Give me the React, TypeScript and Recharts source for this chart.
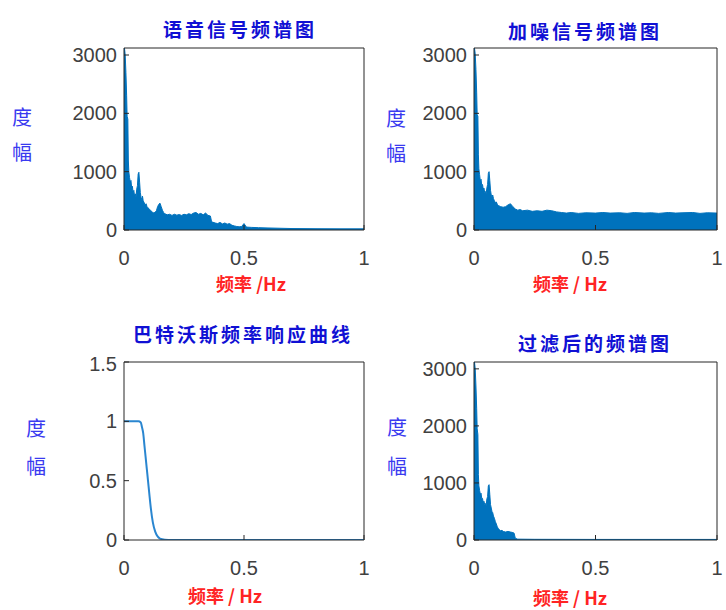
import React from 'react'
import { AreaChart, Area, LineChart, Line, XAxis, YAxis, ReferenceLine } from 'recharts'

// frequency ticks shared by every panel
const xTicks = [0, 0.5, 1]
const ampTicks = [0, 1000, 2000, 3000]
const gainTicks = [0, 0.5, 1, 1.5]

// [frequency, magnitude]
const speechSpectrum = [
  [0, 2900], [0.002, 3120], [0.005, 3000], [0.008, 2700], [0.011, 2300], [0.013, 1950],
  [0.016, 1900], [0.018, 1200], [0.02, 1000], [0.023, 900],
  [0.026, 820], [0.029, 850], [0.032, 720], [0.035, 750], [0.038, 640], [0.041, 680],
  [0.044, 580], [0.047, 620], [0.05, 560], [0.053, 700], [0.056, 760], [0.059, 960],
  [0.062, 990], [0.065, 820], [0.068, 640], [0.071, 560], [0.074, 520], [0.077, 580],
  [0.08, 500], [0.084, 470], [0.088, 430], [0.092, 450], [0.096, 400], [0.1, 380],
  [0.105, 360], [0.11, 340], [0.115, 320], [0.12, 300], [0.125, 290], [0.13, 310],
  [0.135, 330], [0.14, 400], [0.145, 440], [0.15, 460], [0.155, 400], [0.16, 340],
  [0.165, 300], [0.17, 280], [0.18, 260], [0.19, 270], [0.2, 250], [0.21, 270],
  [0.22, 255], [0.23, 265], [0.24, 250], [0.25, 270], [0.26, 260], [0.27, 280],
  [0.28, 265], [0.29, 290], [0.3, 300], [0.31, 270], [0.32, 285], [0.33, 260],
  [0.34, 290], [0.35, 250], [0.36, 240], [0.365, 140], [0.38, 120], [0.39, 110],
  [0.4, 130], [0.41, 105], [0.42, 120], [0.43, 100], [0.44, 110], [0.45, 80],
  [0.46, 70], [0.47, 60], [0.48, 55], [0.49, 60], [0.5, 110], [0.51, 50],
  [0.53, 45], [0.56, 40], [0.6, 35], [0.65, 30], [0.7, 25], [0.8, 22], [0.9, 20], [1, 20],
]

const noisySpectrum = [
  [0, 2950], [0.002, 3120], [0.005, 3020], [0.008, 2750], [0.011, 2350], [0.013, 1980],
  [0.016, 1950], [0.018, 1300], [0.02, 1050], [0.023, 950],
  [0.026, 840], [0.029, 870], [0.032, 760], [0.035, 780], [0.038, 700], [0.041, 720],
  [0.044, 640], [0.047, 660], [0.05, 620], [0.053, 720], [0.056, 780], [0.059, 970],
  [0.062, 1000], [0.065, 850], [0.068, 680], [0.071, 600], [0.074, 560], [0.077, 600],
  [0.08, 540], [0.084, 500], [0.088, 470], [0.092, 480], [0.096, 440], [0.1, 420],
  [0.11, 400], [0.12, 390], [0.13, 400], [0.14, 430], [0.15, 450], [0.16, 400],
  [0.17, 360], [0.18, 340], [0.19, 350], [0.2, 330], [0.22, 340], [0.24, 320],
  [0.26, 330], [0.28, 320], [0.3, 340], [0.32, 330], [0.34, 310], [0.36, 300],
  [0.38, 290], [0.4, 300], [0.43, 285], [0.46, 295], [0.5, 290], [0.53, 300],
  [0.56, 290], [0.6, 295], [0.63, 285], [0.66, 300], [0.7, 290], [0.73, 295],
  [0.76, 285], [0.8, 300], [0.83, 290], [0.86, 295], [0.9, 300], [0.93, 285],
  [0.96, 295], [1, 290],
]

const filteredSpectrum = [
  [0, 2900], [0.002, 3120], [0.005, 3000], [0.008, 2700], [0.011, 2300], [0.013, 1950],
  [0.016, 1850], [0.018, 1150], [0.02, 950], [0.023, 870],
  [0.026, 800], [0.029, 820], [0.032, 720], [0.035, 730], [0.038, 660], [0.041, 680],
  [0.044, 620], [0.047, 640], [0.05, 600], [0.053, 720], [0.056, 760], [0.059, 950],
  [0.062, 970], [0.065, 800], [0.068, 620], [0.071, 560], [0.074, 500], [0.077, 480],
  [0.08, 420], [0.084, 380], [0.088, 320], [0.092, 280], [0.096, 230], [0.1, 200],
  [0.105, 180], [0.11, 160], [0.115, 170], [0.12, 150], [0.13, 140], [0.14, 150],
  [0.15, 140], [0.16, 130], [0.165, 120], [0.17, 30], [0.18, 15], [0.25, 12],
  [0.5, 10], [1, 10],
]

// Butterworth low-pass magnitude response
const butterResponse = [
  [0, 1], [0.03, 1], [0.06, 1], [0.07, 0.99], [0.075, 0.95], [0.08, 0.9],
  [0.085, 0.8], [0.09, 0.7], [0.095, 0.6], [0.1, 0.5], [0.105, 0.4], [0.11, 0.3],
  [0.12, 0.15], [0.13, 0.07], [0.14, 0.03], [0.15, 0.012], [0.17, 0.003], [0.2, 0],
  [0.5, 0], [1, 0],
]

const toRows = (pts: number[][]) => pts.map(([f, v]) => ({ f, v }))

const frame = '#262626'
const blue = '#0072BD'
const tickStyle = { fill: '#404040', fontSize: 20, fontFamily: '"Liberation Sans", Arial, sans-serif' }
const cjk = '"Noto Sans CJK SC", sans-serif'

function axes(yMax: number, yTicks: number[]) {
  return [
    <XAxis key="xb" xAxisId="b" type="number" dataKey="f" domain={[0, 1]} ticks={xTicks}
      height={40} tickSize={-5} tickMargin={26} stroke={frame} tick={tickStyle} allowDataOverflow />,
    <YAxis key="yl" yAxisId="l" type="number" domain={[0, yMax]} ticks={yTicks}
      width={70} tickSize={-5} tickMargin={12} stroke={frame} tick={tickStyle} allowDataOverflow />,
    // box on: close the frame at the top and right
    <ReferenceLine key="top" xAxisId="b" yAxisId="l" y={yMax} stroke={frame} strokeWidth={1} />,
    <ReferenceLine key="right" xAxisId="b" yAxisId="l" x={1} stroke={frame} strokeWidth={1} />,
  ]
}

type Box = { x0: number; y0: number; x1: number; y1: number }

function Txt({ x, y, color, size, bold, spacing, children }: any) {
  return (
    <div style={{
      position: 'absolute', left: x, top: y, transform: 'translate(-50%, -50%)',
      color, fontSize: size, fontWeight: bold ? 700 : 400, letterSpacing: spacing || 0,
      fontFamily: cjk, whiteSpace: 'nowrap', lineHeight: 1,
    }}>{children}</div>
  )
}

function SpectrumPanel({ box, pts }: { box: Box; pts: number[][] }) {
  const w = box.x1 - box.x0 + 80
  const h = box.y1 - box.y0 + 50
  return (
    <div style={{ position: 'absolute', left: box.x0 - 70, top: box.y0 - 10 }}>
      <AreaChart width={w} height={h} data={toRows(pts)} margin={{ top: 10, right: 10, bottom: 0, left: 0 }}>
        {axes(3120, ampTicks)}
        <Area xAxisId="b" yAxisId="l" type="linear" dataKey="v" stroke={blue} strokeWidth={1}
          fill={blue} fillOpacity={1} isAnimationActive={false} dot={false} activeDot={false} />
      </AreaChart>
    </div>
  )
}

function ResponsePanel({ box, pts }: { box: Box; pts: number[][] }) {
  const w = box.x1 - box.x0 + 80
  const h = box.y1 - box.y0 + 50
  return (
    <div style={{ position: 'absolute', left: box.x0 - 70, top: box.y0 - 10 }}>
      <LineChart width={w} height={h} data={toRows(pts)} margin={{ top: 10, right: 10, bottom: 0, left: 0 }}>
        {axes(1.5, gainTicks)}
        <Line xAxisId="b" yAxisId="l" type="monotone" dataKey="v" stroke="#2a86d0" strokeWidth={2}
          dot={false} activeDot={false} isAnimationActive={false} />
      </LineChart>
    </div>
  )
}

const tl = { x0: 124, y0: 48, x1: 364, y1: 230 }
const tr = { x0: 474, y0: 48, x1: 717, y1: 230 }
const bl = { x0: 124, y0: 362, x1: 364, y1: 540 }
const br = { x0: 474, y0: 362, x1: 717, y1: 540 }

const titleColor = '#1010d4'
const yLabColor = '#3a3af0'
const xLabColor = '#ff2424'

export default function App() {
  return (
    <div style={{ position: 'absolute', left: 0, top: 0, width: 726, height: 610, background: '#fff', overflow: 'hidden' }}>
      <SpectrumPanel box={tl} pts={speechSpectrum} />
      <SpectrumPanel box={tr} pts={noisySpectrum} />
      <ResponsePanel box={bl} pts={butterResponse} />
      <SpectrumPanel box={br} pts={filteredSpectrum} />

      <Txt x={240} y={28} color={titleColor} size={19} bold spacing={3}>语音信号频谱图</Txt>
      <Txt x={585} y={30} color={titleColor} size={19} bold spacing={3}>加噪信号频谱图</Txt>
      <Txt x={243} y={333} color={titleColor} size={19} bold spacing={3}>巴特沃斯频率响应曲线</Txt>
      <Txt x={595} y={342} color={titleColor} size={19} bold spacing={3}>过滤后的频谱图</Txt>

      <Txt x={22} y={117} color={yLabColor} size={20}>度</Txt>
      <Txt x={22} y={152} color={yLabColor} size={20}>幅</Txt>
      <Txt x={396} y={118} color={yLabColor} size={20}>度</Txt>
      <Txt x={396} y={153} color={yLabColor} size={20}>幅</Txt>
      <Txt x={36} y={428} color={yLabColor} size={20}>度</Txt>
      <Txt x={36} y={466} color={yLabColor} size={20}>幅</Txt>
      <Txt x={397} y={427} color={yLabColor} size={20}>度</Txt>
      <Txt x={397} y={466} color={yLabColor} size={20}>幅</Txt>

      <Txt x={251} y={283} color={xLabColor} size={18} bold>频率 /Hz</Txt>
      <Txt x={570} y={283} color={xLabColor} size={18} bold>频率 / Hz</Txt>
      <Txt x={225} y={595} color={xLabColor} size={18} bold>频率 / Hz</Txt>
      <Txt x={570} y={597} color={xLabColor} size={18} bold>频率 / Hz</Txt>
    </div>
  )
}
